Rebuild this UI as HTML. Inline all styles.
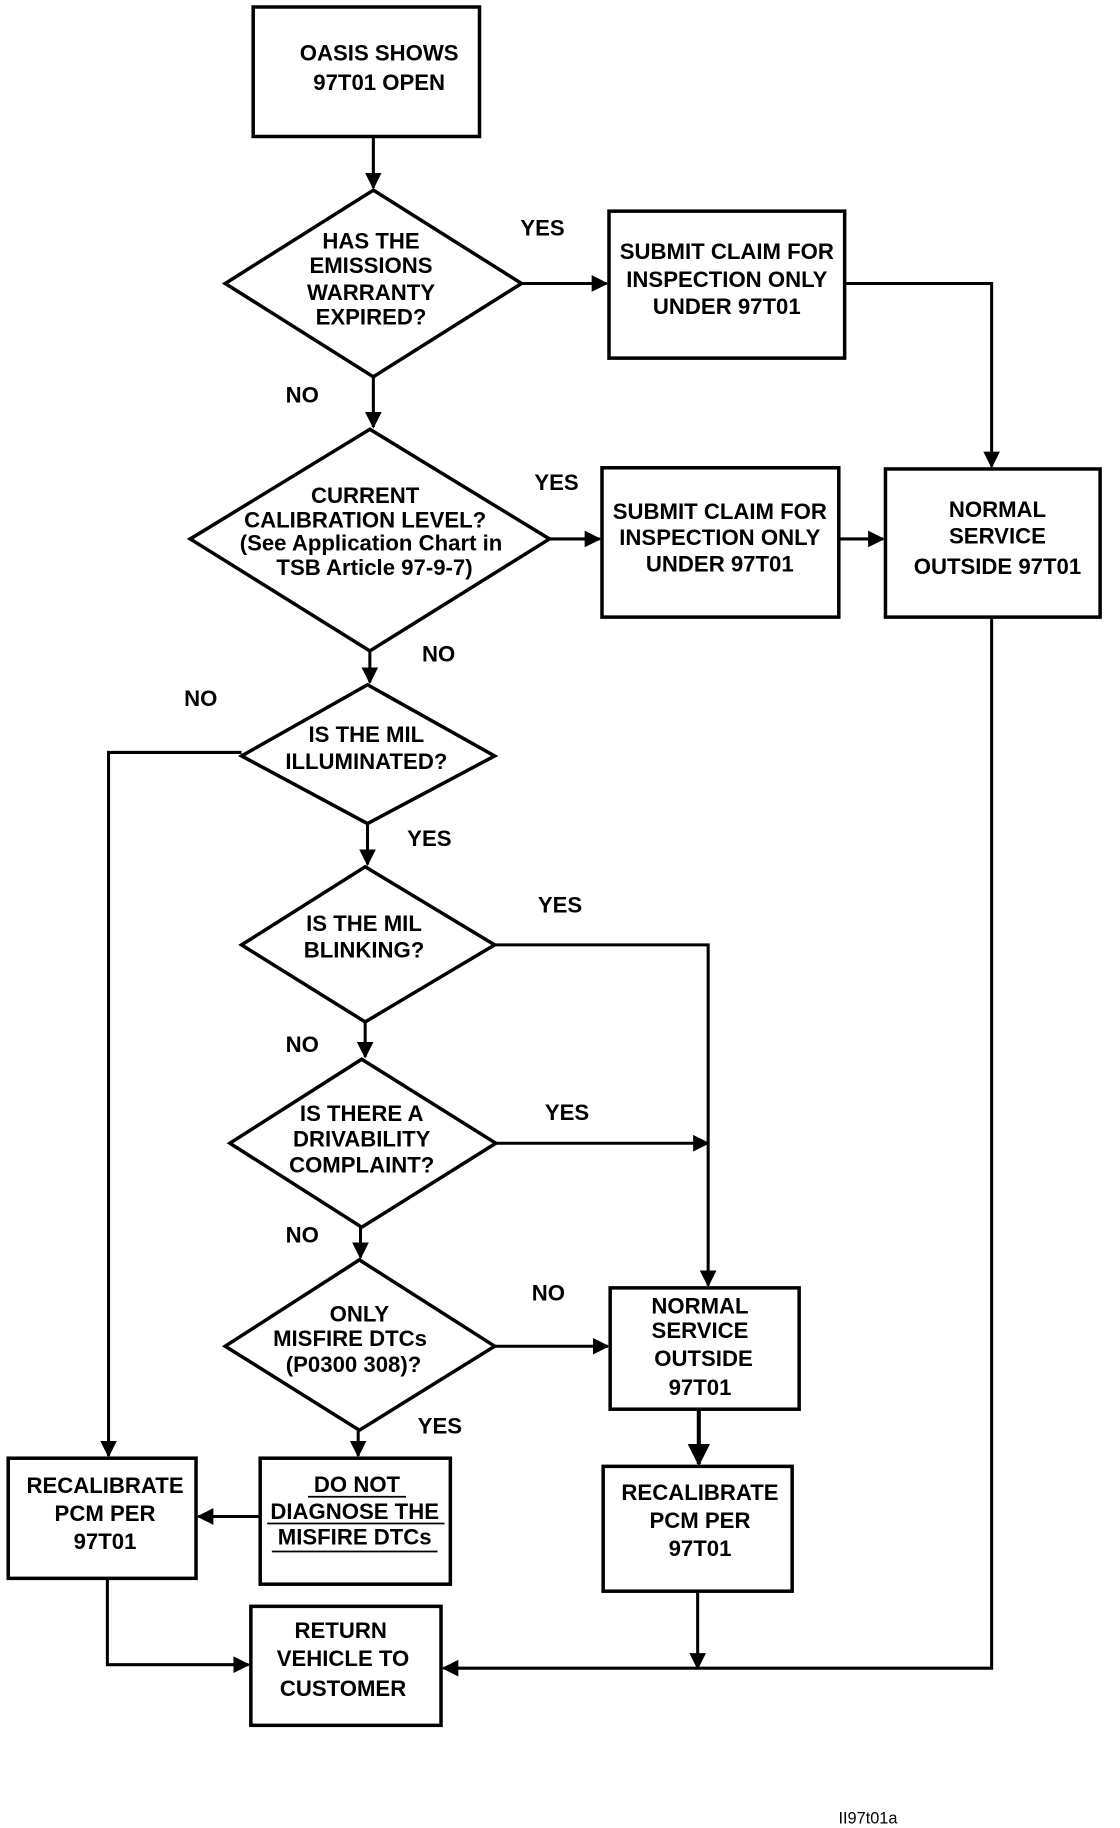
<!DOCTYPE html>
<html><head><meta charset="utf-8"><style>
html,body{margin:0;padding:0;background:#fff;}
svg{display:block;}
text{font-family:"Liberation Sans Narrow","Liberation Sans",sans-serif;font-weight:bold;font-size:19px;fill:#000;text-anchor:middle;}
</style></head><body>
<svg width="1120" height="1828" viewBox="0 0 960 1567" xmlns="http://www.w3.org/2000/svg">
<defs><marker id="a" viewBox="0 0 10 10" refX="9" refY="5" markerWidth="5.5" markerHeight="5.5" orient="auto"><path d="M0,0L10,5L0,10z" fill="#000"/></marker></defs>
<g fill="none" stroke="#000" stroke-width="3">
<rect x="217" y="6" width="194" height="111"/>
<polygon points="320,163 447,243 320,323 193,243"/>
<rect x="522" y="181" width="202" height="126"/>
<polygon points="317,368 471,462 317,558 163,462"/>
<rect x="516" y="401" width="203" height="128"/>
<rect x="759" y="402" width="184" height="127"/>
<polygon points="315,587 424,648 315,706 207,648"/>
<polygon points="313,743 424,810 313,876 207,810"/>
<polygon points="310,908 425,980 310,1052 197,980"/>
<polygon points="308,1080 424,1154 308,1226 193,1154"/>
<rect x="523" y="1104" width="162" height="104"/>
<rect x="517" y="1257" width="162" height="107"/>
<rect x="223" y="1250" width="163" height="108"/>
<rect x="7" y="1250" width="161" height="103"/>
<rect x="215" y="1377" width="163" height="102"/>
</g>
<g fill="none" stroke="#000" stroke-width="2.6" marker-end="url(#a)">
<path d="M320,117V161"/>
<path d="M447,243H520"/>
<path d="M724,243H850V400"/>
<path d="M320,323V366"/>
<path d="M471,462H514"/>
<path d="M719,462H757"/>
<path d="M850,529V1430H380"/>
<path d="M317,558V585"/>
<path d="M207,645H93V1248"/>
<path d="M315,706V741"/>
<path d="M424,810H607V1102"/>
<path d="M313,876V906"/>
<path d="M425,980H607"/>
<path d="M309,1052V1078"/>
<path d="M424,1154H521"/>
<path d="M599,1208V1255" stroke-width="3.5"/>
<path d="M598,1364V1430"/>
<path d="M307,1226V1248"/>
<path d="M223,1300H170"/>
<path d="M92,1353V1427H213"/>
</g>
<text x="325" y="52">OASIS SHOWS</text><text x="325" y="77">97T01 OPEN</text>
<text x="318" y="213">HAS THE</text><text x="318" y="234">EMISSIONS</text><text x="318" y="257">WARRANTY</text><text x="318" y="278">EXPIRED?</text>
<text x="465" y="202">YES</text>
<text x="623" y="222">SUBMIT CLAIM FOR</text><text x="623" y="246">INSPECTION ONLY</text><text x="623" y="269">UNDER 97T01</text>
<text x="259" y="345">NO</text>
<text x="313" y="431">CURRENT</text><text x="313" y="452">CALIBRATION LEVEL?</text><text x="318" y="472">(See Application Chart in</text><text x="321" y="493">TSB Article 97-9-7)</text>
<text x="477" y="420">YES</text>
<text x="617" y="445">SUBMIT CLAIM FOR</text><text x="617" y="467">INSPECTION ONLY</text><text x="617" y="490">UNDER 97T01</text>
<text x="855" y="443">NORMAL</text><text x="855" y="466">SERVICE</text><text x="855" y="492">OUTSIDE 97T01</text>
<text x="376" y="567">NO</text>
<text x="172" y="605">NO</text>
<text x="314" y="636">IS THE MIL</text><text x="314" y="659">ILLUMINATED?</text>
<text x="368" y="725">YES</text>
<text x="312" y="798">IS THE MIL</text><text x="312" y="821">BLINKING?</text>
<text x="480" y="782">YES</text>
<text x="259" y="902">NO</text>
<text x="310" y="961">IS THERE A</text><text x="310" y="983">DRIVABILITY</text><text x="310" y="1005">COMPLAINT?</text>
<text x="486" y="960">YES</text>
<text x="259" y="1065">NO</text>
<text x="308" y="1133">ONLY</text><text x="300" y="1154">MISFIRE  DTCs</text><text x="303" y="1176">(P0300 308)?</text>
<text x="470" y="1115">NO</text>
<text x="600" y="1126">NORMAL</text><text x="600" y="1147">SERVICE</text><text x="603" y="1171">OUTSIDE</text><text x="600" y="1196">97T01</text>
<text x="377" y="1229">YES</text>
<text x="600" y="1286">RECALIBRATE</text><text x="600" y="1310">PCM PER</text><text x="600" y="1334">97T01</text>
<text x="306" y="1279">DO NOT</text><text x="304" y="1302">DIAGNOSE THE</text><text x="304" y="1324">MISFIRE  DTCs</text>
<g stroke="#000" stroke-width="1.5"><line x1="264" y1="1283" x2="348" y2="1283"/><line x1="229" y1="1306" x2="381" y2="1306"/><line x1="233" y1="1330" x2="375" y2="1330"/></g>
<text x="90" y="1280">RECALIBRATE</text><text x="90" y="1304">PCM PER</text><text x="90" y="1328">97T01</text>
<text x="292" y="1404">RETURN</text><text x="294" y="1428">VEHICLE TO</text><text x="294" y="1454">CUSTOMER</text>
<text x="744" y="1563" style="font-size:14px;font-weight:normal">II97t01a</text>
</svg>
</body></html>
